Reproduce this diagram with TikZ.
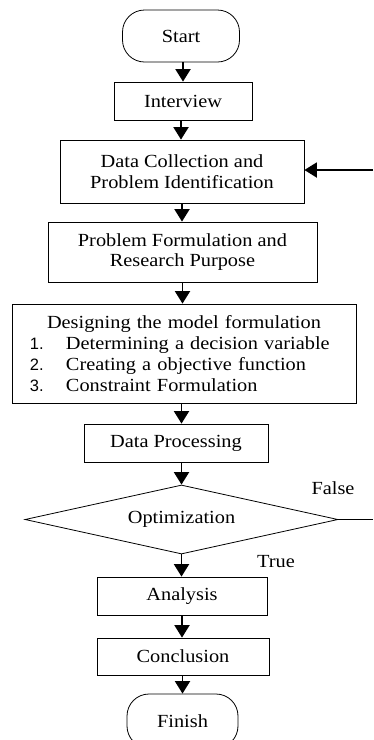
\documentclass[tikz,border=0pt]{standalone}
\usepackage{fontspec}
\setmainfont[FakeStretch=1.1]{Liberation Serif}
\newfontfamily\numf{Liberation Sans}
\usetikzlibrary{arrows.meta,shapes.geometric,calc}
\tikzset{
  base/.style={draw=black, line width=0.8pt, inner sep=0pt, align=center,
    font=\fontsize{18.5}{20.5}\selectfont},
  box/.style={base, rectangle},
  term/.style={base, rectangle, rounded corners=22pt},
  dec/.style={base, diamond, aspect=4.5},
  arr/.style={line width=1.9pt, -{Triangle[width=15pt,length=12.5pt]}},
  plain/.style={line width=1.8pt},
  lbl/.style={font=\fontsize{18.5}{20.5}\selectfont, inner sep=0pt}
}
\begin{document}
\begin{tikzpicture}[x=1pt,y=-1pt]
\useasboundingbox (0,0) rectangle (373,740);
\clip (0,0) rectangle (373,740);
\node[term, minimum width=117pt, minimum height=52pt] (start) at (181,36) {Start};
\node[box, minimum width=138pt, minimum height=38pt] (int) at (183,101) {Interview};
\node[box, minimum width=244pt, minimum height=63pt] (dc) at (182,171.5) {Data Collection and\\Problem Identification};
\node[box, minimum width=269pt, minimum height=60pt] (pf) at (182.5,252) {Problem Formulation and\\Research Purpose};
\node[box, minimum width=344pt, minimum height=99pt, text width=344pt,
      font=\fontsize{18.5}{21}\selectfont] (des) at (184,353.5)
 {Designing the model formulation\\
  \makebox[344pt][l]{\hspace{18pt}\makebox[36pt][l]{\numf\fontsize{16.5}{21}\selectfont 1.}Determining a decision variable}\\
  \makebox[344pt][l]{\hspace{18pt}\makebox[36pt][l]{\numf\fontsize{16.5}{21}\selectfont 2.}Creating a objective function}\\
  \makebox[344pt][l]{\hspace{18pt}\makebox[36pt][l]{\numf\fontsize{16.5}{21}\selectfont 3.}Constraint Formulation}};
\node[box, minimum width=184pt, minimum height=38pt] (dp) at (176,443) {Data Processing};
\node[dec, minimum width=313pt, minimum height=69pt] (opt) at (181.5,519.5) {Optimization};
\node[box, minimum width=170pt, minimum height=38pt] (an) at (182,596) {Analysis};
\node[box, minimum width=172pt, minimum height=37pt] (con) at (183,656.5) {Conclusion};
\node[term, minimum width=111pt, minimum height=54pt] (fin) at (182.5,721) {Finish};
\node[lbl] (fl) at (333,488) {False};
\node[lbl] (tl) at (276,562) {True};
\coordinate (fb) at (373,170);
\coordinate (fe) at (373,519.5);
\draw[arr] (start.south -| int.north) -- (int.north);
\draw[arr] (int.south -| start.south) -- (start.south |- dc.north);
\draw[arr] (dc.south) -- (dc.south |- pf.north);
\draw[arr] (pf.south) -- (pf.south |- des.north);
\draw[arr] (des.south -| opt.north) -- (opt.north |- dp.north);
\draw[arr] (opt.north |- dp.south) -- (opt.north);
\draw[arr] (opt.south) -- (opt.south |- an.north);
\draw[arr] (an.south) -- (an.south |- con.north);
\draw[arr] (con.south -| fin.north) -- (fin.north);
\draw[arr] (fb) -- (dc.east |- fb);
\draw[plain] (opt.east) -- (fe);
\end{tikzpicture}
\end{document}
